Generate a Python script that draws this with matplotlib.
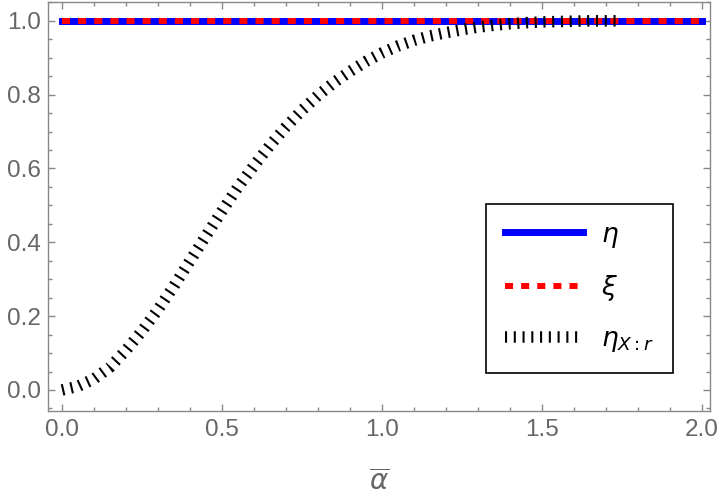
import numpy as np
import matplotlib
matplotlib.use("Agg")
import matplotlib.pyplot as plt
from matplotlib.ticker import MultipleLocator

# -----------------------------
# Data
# -----------------------------
alpha_flat = [0.0, 2.0]
eta = [1.0, 1.0]
xi = [1.0, 1.0]

alpha_xr = [0.00, 0.05, 0.10, 0.15, 0.20, 0.25, 0.30, 0.35, 0.40, 0.45,
            0.50, 0.55, 0.60, 0.65, 0.70, 0.75, 0.80, 0.85, 0.90, 0.95,
            1.00, 1.05, 1.10, 1.15, 1.20, 1.25, 1.30, 1.35, 1.40, 1.45,
            1.50, 1.55, 1.60, 1.65, 1.70, 1.75]
eta_xr = [0.000, 0.010, 0.030, 0.062, 0.108, 0.160, 0.218, 0.282, 0.350, 0.418,
          0.485, 0.550, 0.608, 0.663, 0.713, 0.758, 0.798, 0.833, 0.863, 0.890,
          0.913, 0.932, 0.947, 0.959, 0.968, 0.976, 0.983, 0.988, 0.992, 0.995,
          0.997, 0.998, 0.999, 1.000, 1.000, 1.000]

labels = [r"$\eta$", r"$\xi$", r"$\eta_{X:r}$"]

# -----------------------------
# Plot
# -----------------------------
plt.rcParams["font.family"] = ["Liberation Sans", "DejaVu Sans"]
plt.rcParams["mathtext.fontset"] = "dejavusans"

GRAY = "#666666"
SPINE = "#888888"

fig = plt.figure(figsize=(7.2, 4.98), dpi=100)
ax = fig.add_axes([48 / 720, 1 - 411 / 498, 662 / 720, 409 / 498])

ax.plot(alpha_flat, eta, color="#0000ff", lw=5.0, solid_capstyle="projecting",
        label=labels[0], zorder=2)
ax.plot(alpha_flat, xi, color="#ff0000", lw=4.3, dashes=(1.35, 1.35),
        label=labels[1], zorder=3)
ax.plot(alpha_xr, eta_xr, color="black", lw=8.3, dashes=(0.18, 0.58),
        dash_capstyle="butt", label=labels[2], zorder=4)

ax.set_xlim(-0.044, 2.025)
ax.set_ylim(-0.057, 1.051)

ax.xaxis.set_major_locator(MultipleLocator(0.5))
ax.xaxis.set_minor_locator(MultipleLocator(0.1))
ax.yaxis.set_major_locator(MultipleLocator(0.2))
ax.yaxis.set_minor_locator(MultipleLocator(0.05))
ax.xaxis.set_major_formatter(plt.FormatStrFormatter("%.1f"))
ax.yaxis.set_major_formatter(plt.FormatStrFormatter("%.1f"))

ax.tick_params(which="both", direction="in", top=True, right=True,
               color=SPINE, width=1.0, labelcolor=GRAY, labelsize=17.5)
ax.tick_params(which="major", length=5)
ax.tick_params(which="minor", length=3)
ax.tick_params(axis="x", pad=6)
ax.tick_params(axis="y", pad=5)

for s in ax.spines.values():
    s.set_color(SPINE)
    s.set_linewidth(1.0)

ax.set_xlabel(r"$\overline{\alpha}$", color=GRAY, fontsize=20, labelpad=20)

leg = ax.legend(loc="lower left", bbox_to_anchor=(0.6616, 0.0929),
                borderaxespad=0, fontsize=19, handlelength=2.95,
                handletextpad=0.68, labelspacing=0.9, borderpad=0.72,
                fancybox=False, framealpha=1, edgecolor="black")
leg.get_frame().set_linewidth(1.2)

fig.savefig("out.png", dpi=100)
